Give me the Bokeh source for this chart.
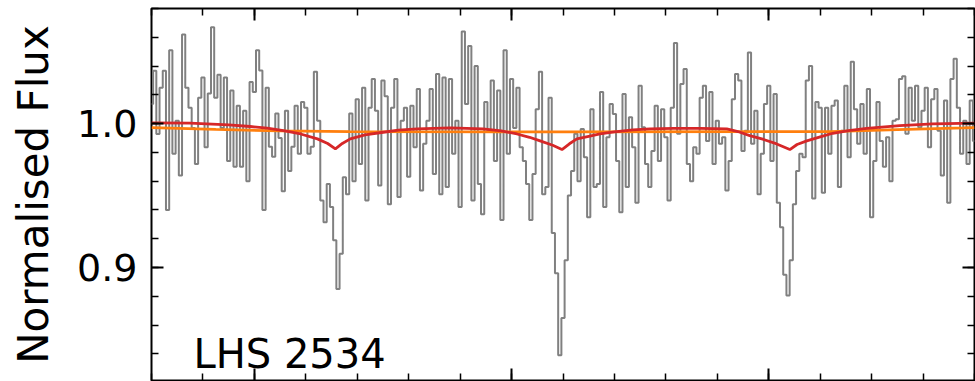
from bokeh.plotting import figure
from bokeh.models import Range1d, LinearAxis, SingleIntervalTicker, Label, NumeralTickFormatter, CustomJSTickFormatter
from bokeh.embed import file_html
from bokeh.resources import INLINE

# ---- data ----
x_start = 6.0
x_step = 0.125

flux_a = [1.0137, 1.0368, 0.9928, 1.025, 1.0368, 0.9400, 1.051, 0.979, 1.002, 0.964,
          1.062, 1.025, 1.011, 0.997, 0.972, 1.018, 1.032, 0.9836, 1.021, 1.067,
          1.018, 1.034, 0.997, 1.032, 0.974, 1.023, 0.970, 1.0125, 0.970, 1.009,
          0.960, 1.029, 1.022, 1.051, 1.037, 0.940, 1.025, 0.984, 0.977, 1.007,
          0.990, 0.953, 1.009, 0.967, 0.984, 1.0125, 0.979, 1.015, 1.011, 0.979,
          0.984, 1.036, 1.002, 0.9465, 0.9315, 0.958, 0.942, 0.919, 0.885, 0.9095,
          0.9627, 0.951, 1.007, 0.960, 1.017]
flux_b = [0.972, 1.025, 0.9465, 1.011, 1.031, 1.009, 0.957, 1.030, 1.019, 0.944,
          1.011, 1.031, 0.949, 1.002, 1.011, 0.963, 1.0125, 0.9836, 1.024, 0.9535,
          0.986, 1.002, 1.024, 0.965, 1.0345, 0.951, 1.032, 0.956, 1.031, 0.979,
          1.002, 0.942, 1.064, 1.0137, 1.054, 0.9465, 1.040, 0.958, 0.937, 1.015,
          0.995, 1.030, 0.974, 1.023, 0.933, 1.051, 0.979, 1.031, 0.997, 1.025,
          0.9836, 0.974, 0.958, 0.933, 0.965, 1.010, 1.036, 0.951, 0.956, 1.018,
          0.924, 0.896, 0.839, 0.865, 0.905, 0.950]
flux_c = [0.967, 0.993, 0.960, 0.9963, 0.9766, 0.935, 1.010, 0.956, 0.958, 1.022,
          0.942, 0.9905, 1.0137, 1.0067, 0.974, 0.9384, 1.0206, 0.956, 1.0044, 0.9836,
          0.945, 1.0264, 0.9975, 0.972, 0.956, 0.981, 1.0125, 0.974, 1.010, 0.9905,
          0.9465, 1.011, 1.056, 0.993, 1.0275, 1.038, 0.972, 0.960, 0.9836, 0.979,
          1.018, 1.0264, 0.988, 1.022, 0.972, 1.002, 0.986, 0.9905, 0.9535, 0.974,
          1.017, 1.0345, 1.030, 0.981, 0.995, 1.0495, 0.986, 1.009, 0.951, 0.979,
          1.0137]
flux_d = [1.0264, 0.974, 1.0206, 0.945, 0.928, 0.895, 0.8806, 0.905, 0.944, 0.967,
          0.979, 0.9766, 1.030, 1.040, 0.948, 1.015, 1.011, 0.952, 1.011, 0.979,
          1.0125, 1.016, 0.956, 0.995, 1.0264, 0.9766, 1.043, 1.010, 0.986, 1.0137,
          0.979, 1.024, 0.935, 0.974, 1.015, 0.988, 0.970, 0.9905, 0.960, 1.002,
          1.003, 1.031, 1.033, 0.993, 1.025, 1.002, 1.0264, 0.9975, 1.009, 1.025,
          0.9836, 1.017, 1.024, 0.995, 0.964, 1.016, 0.945, 1.031, 1.045, 1.011,
          0.979, 1.002, 0.972, 1.016, 0.988]

flux = flux_a + flux_b + flux_c + flux_d
wave = [x_start + x_step * i for i in range(len(flux))]

cont_x = [6.0, 8.5, 11.0, 13.7, 22.0, 30.0, 32.4, 35.0, 37.6, 38.0]
cont_y = [0.9972, 0.9960, 0.9949, 0.9944, 0.9943, 0.9944, 0.9945, 0.9958, 0.9970, 0.9972]

model_x = [6.0, 7.5, 9.0, 9.84, 10.5, 11.13, 11.8, 12.45, 12.85, 13.15, 13.42, 13.73,
           14.3, 15.01, 15.6, 16.33, 17.61, 18.89, 19.6, 20.21, 20.7, 21.11, 21.6, 21.96,
           22.25, 22.54, 23.0, 23.44, 24.0, 24.72, 25.38, 26.3, 27.32, 28.37, 28.8, 29.26,
           29.8, 30.31, 30.82, 31.1, 31.48, 32.0, 32.49, 33.1, 33.81, 35.09, 36.37, 38.0]
model_y = [1.0005, 1.0003, 0.9992, 0.998, 0.9968, 0.9951, 0.9928, 0.9894, 0.9862, 0.9825, 0.9862, 0.9894,
           0.9922, 0.994, 0.9955, 0.9963, 0.997, 0.9963, 0.995, 0.9928, 0.9905, 0.988, 0.985, 0.982,
           0.986, 0.9894, 0.9912, 0.9928, 0.9943, 0.9956, 0.9963, 0.9967, 0.9967, 0.9963, 0.9945, 0.9917,
           0.989, 0.9859, 0.982, 0.9855, 0.988, 0.9908, 0.9933, 0.9952, 0.9967, 0.9986, 0.9998, 1.0003]

star_name = "LHS 2534"
name_pos = (7.63, 0.840)

FONT = "DejaVu Sans"

p = figure(width=975, height=381, output_backend="svg", toolbar_location=None,
           x_range=Range1d(6.0, 38.0), y_range=Range1d(0.8215, 1.08),
           x_axis_location=None, y_axis_location=None,
           min_border_left=151, min_border_right=1, min_border_top=8, min_border_bottom=1)
p.xgrid.grid_line_color = None
p.ygrid.grid_line_color = None
p.outline_line_color = "black"
p.outline_line_width = 2
p.background_fill_color = "white"
p.border_fill_color = "white"


def style_axis(ax, labels):
    ax.axis_line_color = None
    ax.major_tick_in = 12
    ax.major_tick_out = 0
    ax.minor_tick_in = 7
    ax.minor_tick_out = 0
    ax.major_tick_line_width = 2
    ax.minor_tick_line_width = 1.5
    ax.major_tick_line_color = "black"
    ax.minor_tick_line_color = "black"
    if not labels:
        ax.formatter = CustomJSTickFormatter(code="return ''")
        ax.major_label_text_font_size = "0px"
        ax.major_label_standoff = 0


left = LinearAxis(ticker=SingleIntervalTicker(interval=0.1, num_minor_ticks=5),
                  formatter=NumeralTickFormatter(format="0.0"),
                  axis_label="Normalised Flux")
style_axis(left, True)
left.major_label_text_font = FONT
left.major_label_text_font_size = "38px"
left.major_label_text_color = "black"
left.major_label_standoff = 14
left.axis_label_text_font = FONT
left.axis_label_text_font_size = "42px"
left.axis_label_text_font_style = "normal"
left.axis_label_text_color = "black"
left.axis_label_standoff = 16
p.add_layout(left, "left")

right = LinearAxis(ticker=SingleIntervalTicker(interval=0.1, num_minor_ticks=5))
style_axis(right, False)
p.add_layout(right, "right")

top = LinearAxis(ticker=SingleIntervalTicker(interval=10, num_minor_ticks=5))
style_axis(top, False)
p.add_layout(top, "above")

bottom = LinearAxis(ticker=SingleIntervalTicker(interval=10, num_minor_ticks=5))
style_axis(bottom, False)
p.add_layout(bottom, "below")

p.step(wave, flux, mode="center", line_color="#808080", line_width=2.0)
p.line(cont_x, cont_y, line_color="#ff7f0e", line_width=2.8)
p.line(model_x, model_y, line_color="#d62728", line_width=2.8)

p.add_layout(Label(x=name_pos[0], y=name_pos[1], text=star_name,
                   text_font=FONT, text_font_size="40px", text_color="black",
                   text_baseline="alphabetic", text_align="left"))

open("out.html", "w").write(file_html(p, INLINE))
